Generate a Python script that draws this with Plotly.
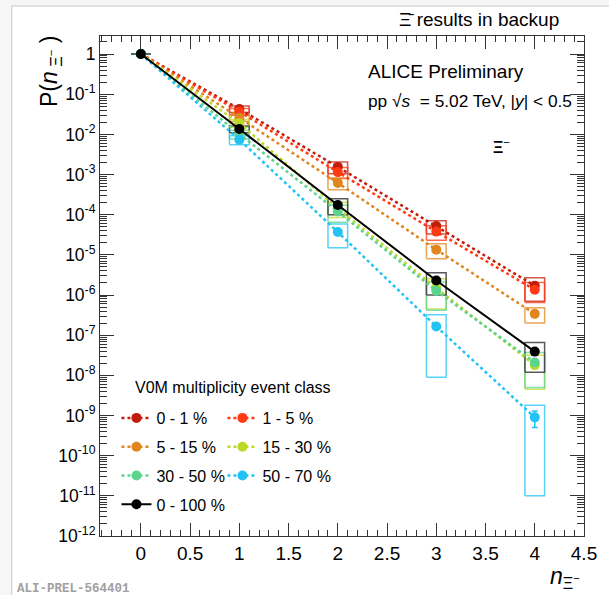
import plotly.graph_objects as go

# ---------------- data ----------------
n_xi = [0, 1, 2, 3, 4]

classes = ["0 - 1 %", "1 - 5 %", "5 - 15 %", "15 - 30 %", "30 - 50 %", "50 - 70 %", "0 - 100 %"]

p_0_1 = [1.0, 0.043, 1.55e-3, 5.2e-5, 1.7e-6]
p_1_5 = [1.0, 0.037, 1.15e-3, 3.8e-5, 1.35e-6]
p_5_15 = [1.0, 0.026, 6.2e-4, 1.35e-5, 3.4e-7]
p_15_30 = [1.0, 0.019, 1.45e-4, 1.5e-6, 1.8e-8]
p_30_50 = [1.0, 0.0102, 1.2e-4, 1.27e-6, 2.1e-8]
p_50_70 = [1.0, 0.0074, 3.7e-5, 1.65e-7, 9.0e-10]
p_0_100 = [1.0, 0.0136, 1.75e-4, 2.3e-6, 3.9e-8]

sys_0_1 = [0, 0.008, 5.0e-4, 1.9e-5, 1.0e-6]
sys_1_5 = [0, 0.007, 3.5e-4, 1.5e-5, 0.7e-6]
sys_5_15 = [0, 0.005, 2.0e-4, 5.5e-6, 1.4e-7]
sys_15_30 = [0, 0.004, 6.0e-5, 1.05e-6, 1.35e-8]
sys_30_50 = [0, 0.0025, 5.5e-5, 0.85e-6, 1.6e-8]
sys_50_70 = [0, 0.0019, 2.2e-5, 1.56e-7, 8.9e-10]
sys_0_100 = [0, 0.0026, 7.5e-5, 1.3e-6, 2.7e-8]

stat_0_1 = [0, 0, 0, 0, 0]
stat_1_5 = [0, 0, 0, 0, 0]
stat_5_15 = [0, 0, 0, 0, 0]
stat_15_30 = [0, 0, 0, 0, 0]
stat_30_50 = [0, 0, 0, 0, 0]
stat_50_70 = [0, 0, 0, 0, 4.0e-10]
stat_0_100 = [0, 0, 0, 0, 0]

y_tick_exponents = [0, -1, -2, -3, -4, -5, -6, -7, -8, -9, -10, -11, -12]

# ---------------- style ----------------
colors = ["#c21d0c", "#ff3a14", "#e0861f", "#bcd928", "#5cd48c", "#22c3f3", "#000000"]
box_colors = ["rgba(194,29,12,0.75)", "rgba(255,58,20,0.75)", "rgba(224,134,31,0.75)",
              "rgba(188,217,40,0.75)", "rgba(92,212,140,0.75)", "rgba(34,195,243,0.75)",
              "rgba(60,60,60,0.85)"]
values = [p_0_1, p_1_5, p_5_15, p_15_30, p_30_50, p_50_70, p_0_100]
systs = [sys_0_1, sys_1_5, sys_5_15, sys_15_30, sys_30_50, sys_50_70, sys_0_100]
stats = [stat_0_1, stat_1_5, stat_5_15, stat_15_30, stat_30_50, stat_50_70, stat_0_100]
legend_of = ["legend", "legend2", "legend", "legend2", "legend", "legend2", "legend"]
BOX_HW = 0.1
FONT = "Liberation Sans, Arial, sans-serif"

fig = go.Figure()

# systematic boxes
for vals, sy, bc in zip(values, systs, box_colors):
    bx, by = [], []
    for x, v, s in zip(n_xi, vals, sy):
        lo, hi = v - s, v + s
        bx += [x - BOX_HW, x + BOX_HW, x + BOX_HW, x - BOX_HW, x - BOX_HW, None]
        by += [lo, lo, hi, hi, lo, None]
    fig.add_trace(go.Scatter(x=bx, y=by, mode="lines", line=dict(color=bc, width=1.5),
                             showlegend=False, hoverinfo="skip"))

# lines + points
for i, (name, vals, st, col) in enumerate(zip(classes, values, stats, colors)):
    is_all = name == "0 - 100 %"
    fig.add_trace(go.Scatter(
        x=n_xi, y=vals, name=name, mode="lines+markers",
        line=dict(color=col, width=2 if is_all else 2.5, dash="solid" if is_all else "dot"),
        marker=dict(color=col, size=10, symbol="circle"),
        error_y=dict(type="data", array=st, visible=True, color=col, thickness=1.5, width=3),
        legend=legend_of[i], legendgroup="g%d" % i,
    ))

fig.update_layout(
    width=609, height=595,
    margin=dict(l=100, r=15, t=36, b=59),
    paper_bgcolor="#f6f6f6", plot_bgcolor="white",
    font=dict(family=FONT, size=19, color="black"),
    showlegend=True,
    legend=dict(x=0.034, y=0.27, xanchor="left", yanchor="top",
                bgcolor="rgba(0,0,0,0)", font=dict(size=16),
                traceorder="grouped", tracegroupgap=5),
    legend2=dict(x=0.253, y=0.27, xanchor="left", yanchor="top",
                 bgcolor="rgba(0,0,0,0)", font=dict(size=16),
                 traceorder="grouped", tracegroupgap=5),
)

fig.update_xaxes(
    range=[-0.415, 4.5], tick0=0, dtick=0.5,
    ticks="inside", ticklen=13, tickcolor="#333", showline=True, linecolor="#333", linewidth=1,
    mirror="allticks", showgrid=False, zeroline=False,
    minor=dict(tick0=0, dtick=0.1, ticks="inside", ticklen=6, tickcolor="#333", showgrid=False),
    tickfont=dict(size=19),
)
fig.update_yaxes(
    type="log", range=[-12, 0.45],
    tickvals=[10.0 ** e for e in y_tick_exponents],
    ticktext=["1" if e == 0 else "10<sup>%d</sup>" % e for e in y_tick_exponents],
    ticks="inside", ticklen=14, tickcolor="#333", showline=True, linecolor="#333", linewidth=1,
    mirror="allticks", showgrid=False, zeroline=False,
    minor=dict(dtick="D1", ticks="inside", ticklen=7, tickcolor="#333", showgrid=False),
    tickfont=dict(size=17.5),
)

# frame of the slide
fig.add_shape(type="rect", xref="paper", yref="paper",
              x0=(10 - 100) / 494, x1=(640 - 100) / 494, y0=(536 - 640) / 500, y1=(536 - 6) / 500,
              line=dict(color="#c8c8c8", width=1), fillcolor="white", layer="below")

def px_x(p):
    return (p - 100) / 494

def px_y(p):
    return (536 - p) / 500

ann = [
    dict(text="Ξ\u0304 results in backup", x=px_x(403), y=px_y(20), xanchor="left", yanchor="middle",
         font=dict(size=19)),
    dict(text="ALICE Preliminary", x=px_x(371), y=px_y(72), xanchor="left", yanchor="middle",
         font=dict(size=19)),
    dict(text="pp √<i>s</i>  = 5.02 TeV, |<i>y</i>| &lt; 0.5", x=px_x(371), y=px_y(101),
         xanchor="left", yanchor="middle", font=dict(size=17.3)),
    dict(text="<b>Ξ</b><sup>−</sup>", x=px_x(510), y=px_y(146), xanchor="center", yanchor="middle",
         font=dict(size=16)),
    dict(text="V0M multiplicity event class", x=px_x(134), y=px_y(387), xanchor="left",
         yanchor="middle", font=dict(size=16)),
    dict(text="P(<i>n</i><sub> Ξ<sup>−</sup></sub> )", x=px_x(50), y=px_y(72), textangle=-90,
         xanchor="center", yanchor="middle", font=dict(size=23)),
    dict(text="<i>n</i><sub>Ξ<sup>−</sup></sub>", x=px_x(592), y=px_y(577), xanchor="right",
         yanchor="middle", font=dict(size=23)),
    dict(text="<b>ALI-PREL-564401</b>", x=px_x(13), y=px_y(589), xanchor="left", yanchor="middle",
         font=dict(size=12.5, family="Liberation Mono, Courier New, monospace", color="#a0a0a0")),
]
for a in ann:
    a.update(xref="paper", yref="paper", showarrow=False)
    fig.add_annotation(**a)

fig.write_html("out.html")
